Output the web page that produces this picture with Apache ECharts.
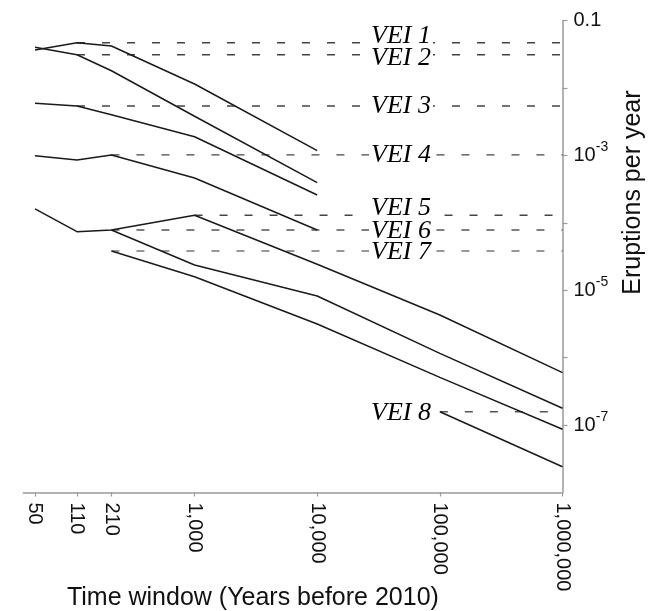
<!DOCTYPE html>
<html><head><meta charset="utf-8">
<script src="https://cdn.jsdelivr.net/npm/echarts@6/dist/echarts.min.js"></script>
<style>html,body{margin:0;padding:0;background:#fff}#c{width:666px;height:611px}</style>
</head><body><div id="c"></div>
<script>
// Time windows (years before 2010)
const timeWindows = [50, 110, 210, 1000, 10000, 100000, 1000000];
// Eruptions per year for each VEI class (null = no value)
const vei1 = [0.0367, 0.0472, 0.0421, 0.0115, 0.00118, null, null];
const vei2 = [0.0403, 0.0313, 0.0181, 0.00382, 0.000395, null, null];
const vei3 = [0.00595, 0.00542, 0.00402, 0.0019, 0.000259, null, null];
const vei4 = [0.000993, 0.000858, 0.00102, 0.000464, 0.0000785, null, null];
const vei5 = [0.000161, 0.000074, 0.0000785, 0.00013, 0.0000243, 0.0000043, 0.0000006];
const vei6 = [null, null, 0.0000785, 0.0000237, 0.00000823, 0.00000116, 0.000000178];
const vei7 = [null, null, 0.0000383, 0.0000159, 0.00000316, 0.00000051, 0.0000000866];
const vei8 = [null, null, null, null, null, 0.000000158, 0.0000000241];
const veiNames = ['VEI 1', 'VEI 2', 'VEI 3', 'VEI 4', 'VEI 5', 'VEI 6', 'VEI 7', 'VEI 8'];
// Reference (dashed) levels and the time window they start from
const refStart = [110, 110, 110, 210, 1000, 210, 210, 100000];
const refLevel = [0.0472, 0.0313, 0.00542, 0.00102, 0.00013, 0.0000785, 0.0000383, 0.000000158];
// Tick values
const xTickValues = [50, 110, 210, 1000, 10000, 100000, 1000000];
const yTickValues = [0.1, 0.01, 0.001, 0.0001, 0.00001, 0.000001, 0.0000001];
const yLabelValues = [0.1, 0.001, 0.00001, 0.0000001];

// ---- styling (not data) ----
const X_MIN = 40.14, X_MAX = 1000000, LABEL_X = 48200;
const dashColors = ['#444', '#444', '#444', '#444', '#444', '#555', '#777', '#555'];
const labelOffsets = [[0, -7], [0, 3], [0, 0], [0, 0], [0, -7], [0, 1], [0, 1], [0, 1]];

const allVei = [vei1, vei2, vei3, vei4, vei5, vei6, vei7, vei8];
const series = [];
allVei.forEach((arr, i) => {
  series.push({
    type: 'line', name: veiNames[i], silent: true, z: 3,
    data: timeWindows.map((t, j) => arr[j] == null ? null : [t, arr[j]]).filter(d => d),
    symbol: 'none', lineStyle: { color: '#1a1a1a', width: 1.5 }
  });
  series.push({
    type: 'line', silent: true, z: 2,
    data: [[refStart[i], refLevel[i]], [X_MAX, refLevel[i]]],
    symbol: 'none', lineStyle: { color: dashColors[i], width: 1.4, type: [8, 17] }
  });
});
series.push({
  type: 'scatter', silent: true, z: 5, symbol: 'circle', symbolSize: 0,
  itemStyle: { color: '#000', opacity: 1 },
  data: refLevel.map((lv, i) => ({ value: [LABEL_X, lv], label: { offset: labelOffsets[i] } })),
  label: {
    show: true, position: 'inside', formatter: p => veiNames[p.dataIndex], opacity: 1,
    fontFamily: 'Liberation Serif', fontStyle: 'italic', fontSize: 26, color: '#000',
    textBorderWidth: 0, textBorderColor: 'transparent',
    backgroundColor: '#fff', padding: [0, 2], lineHeight: 20
  }
});

const chart = echarts.init(document.getElementById('c'), null, { renderer: 'canvas' });
chart.setOption({
  animation: false,
  backgroundColor: '#fff',
  grid: { left: 23.3, right: 103.5, top: 20.7, bottom: 118.5, containLabel: false, outerBoundsMode: 'none' },
  xAxis: {
    type: 'log', logBase: 10, min: X_MIN, max: X_MAX,
    axisLine: { show: true, lineStyle: { color: '#9a9a9a', width: 1.5 } },
    axisTick: { show: true, customValues: xTickValues, length: 4, lineStyle: { color: '#9a9a9a', width: 1.2 } },
    minorTick: { show: false },
    splitLine: { show: false },
    axisLabel: {
      customValues: xTickValues, rotate: -90, margin: 10,
      formatter: v => Math.round(v).toLocaleString('en-US'),
      fontFamily: 'Liberation Sans', fontSize: 20, color: '#111'
    },
    name: 'Time window (Years before 2010)', nameLocation: 'middle', nameGap: 93, nameMoveOverlap: false,
    nameTextStyle: { fontFamily: 'Liberation Sans', fontSize: 25, color: '#111', padding: [0, 80, 0, 0] }
  },
  yAxis: {
    type: 'log', logBase: 10, position: 'right', min: 0.00000001, max: 0.1,
    axisLine: { show: true, lineStyle: { color: '#9a9a9a', width: 1.5 } },
    axisTick: { show: true, customValues: yTickValues, length: 5, lineStyle: { color: '#9a9a9a', width: 1.2 } },
    minorTick: { show: false },
    splitLine: { show: false },
    axisLabel: {
      customValues: yLabelValues, margin: 11,
      formatter: v => {
        const e = Math.round(Math.log10(v));
        return e === -1 ? '0.1' : '10{sup|-' + Math.abs(e) + '}';
      },
      fontFamily: 'Liberation Sans', fontSize: 20, color: '#111', lineHeight: 30,
      rich: { sup: { fontFamily: 'Liberation Sans', fontSize: 14, color: '#111', verticalAlign: 'top', lineHeight: 14 } }
    },
    name: 'Eruptions per year', nameLocation: 'middle', nameGap: 58, nameMoveOverlap: false,
    nameTextStyle: { fontFamily: 'Liberation Sans', fontSize: 25, color: '#111', padding: [0, 0, 0, 128] }
  },
  series: series
});
</script>
</body></html>
